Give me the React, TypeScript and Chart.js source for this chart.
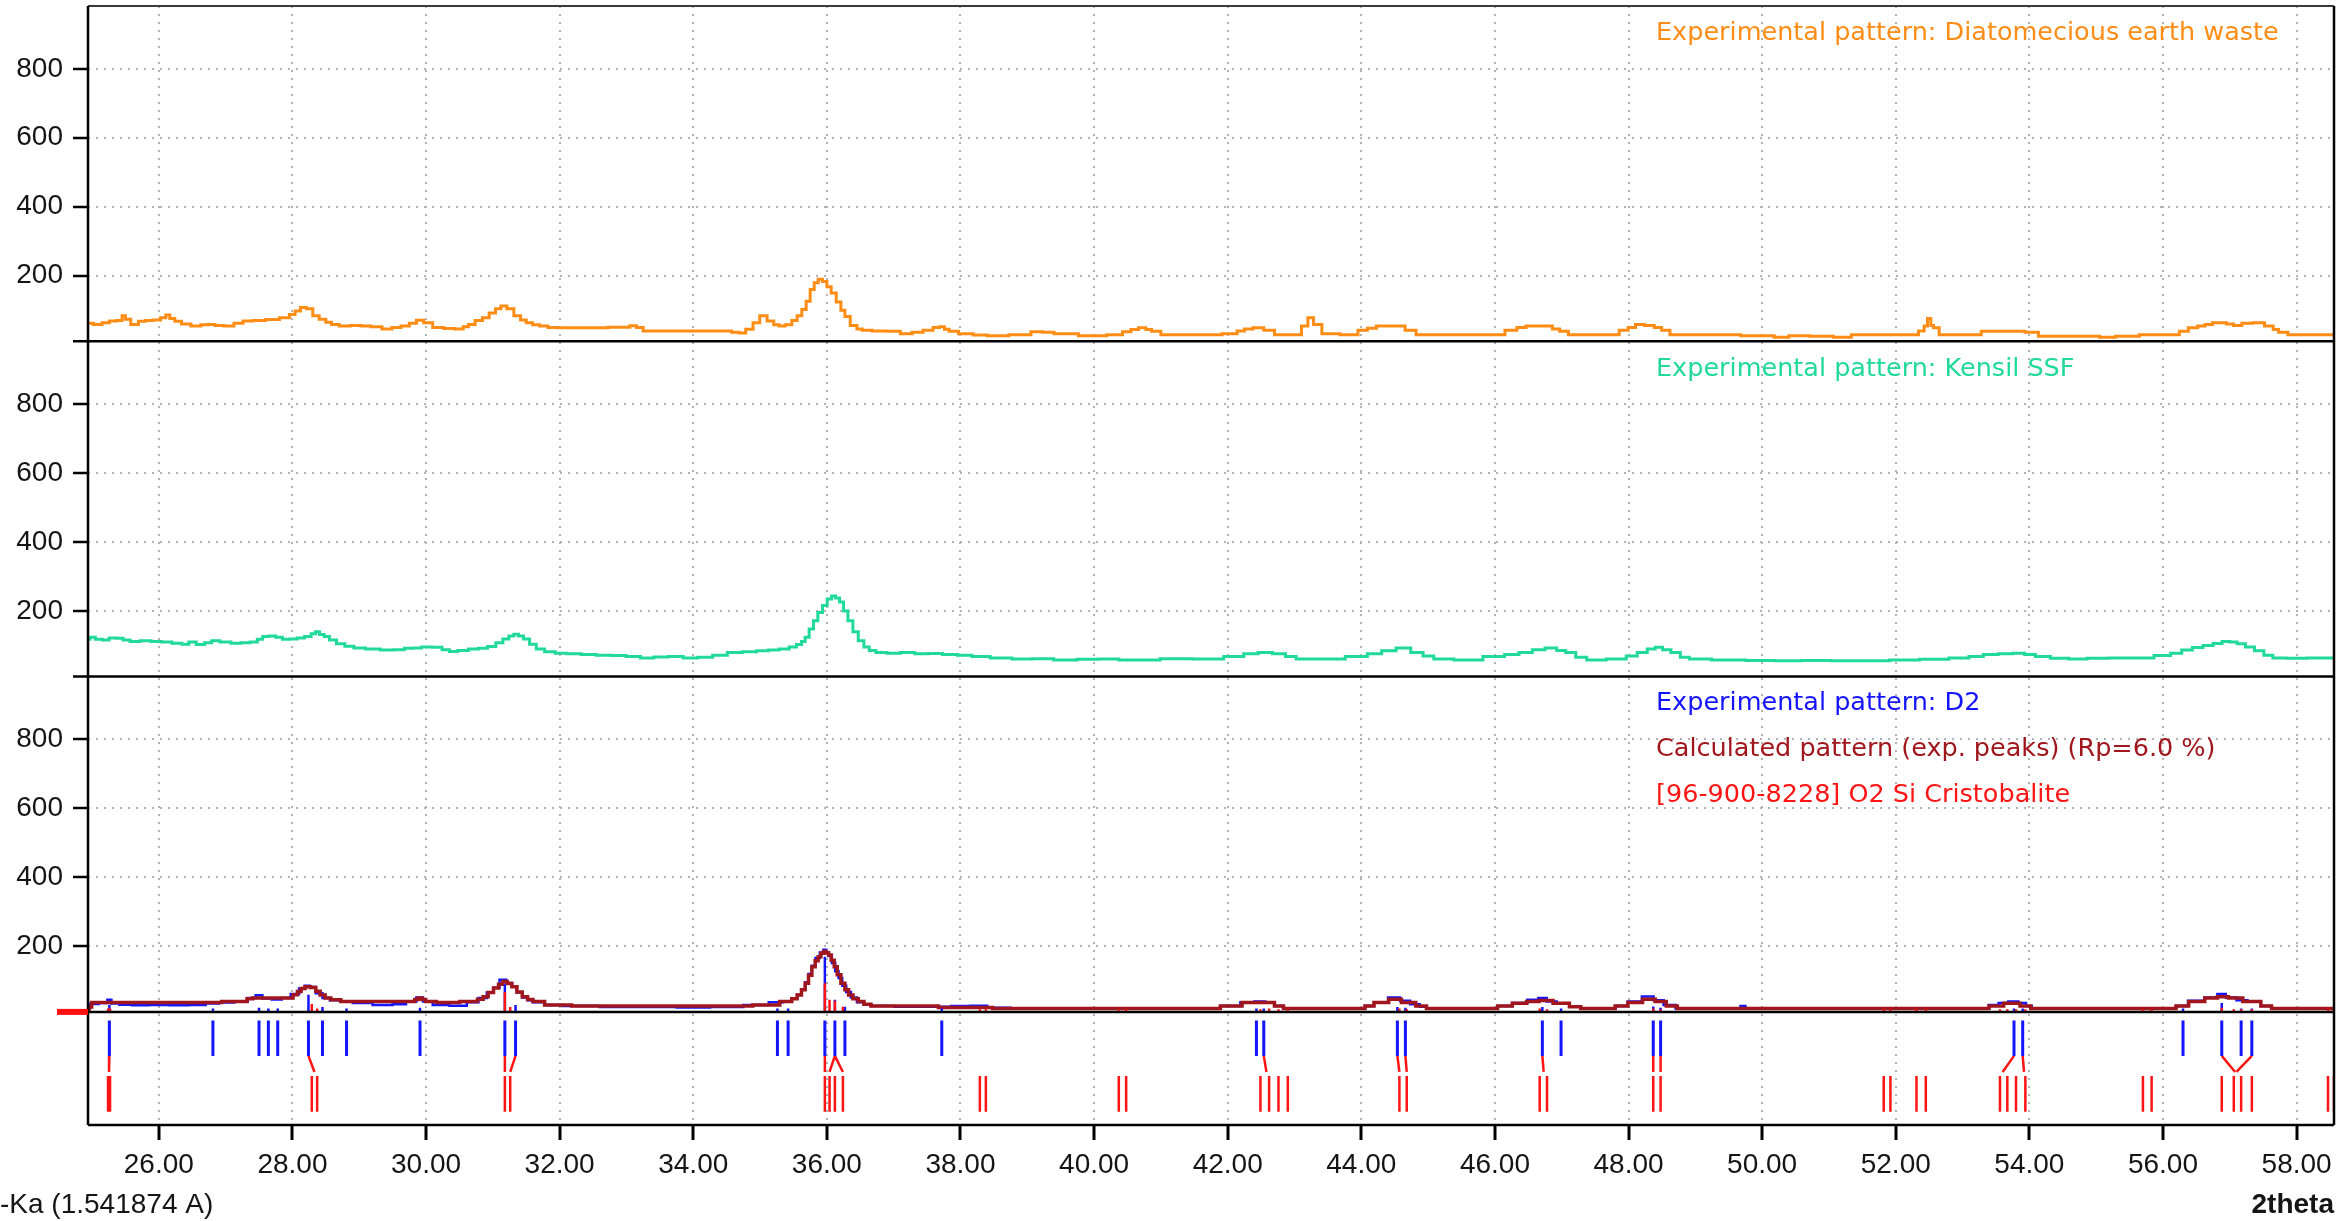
import React, { useEffect, useRef } from 'react';
import { Chart, registerables } from 'chart.js';

Chart.register(...registerables);

// ---------- axes ----------
const X_MIN = 24.94;
const X_MAX = 58.56;
const Y_MIN = 10;
const Y_MAX = 982;
const xTicks = [26, 28, 30, 32, 34, 36, 38, 40, 42, 44, 46, 48, 50, 52, 54, 56, 58];
const yTicks = [200, 400, 600, 800];

// ---------- texts ----------
const legendDiatom = 'Experimental pattern: Diatomecious earth waste';
const legendKensil = 'Experimental pattern: Kensil SSF';
const legendD2 = 'Experimental pattern: D2';
const legendCalc = 'Calculated pattern (exp. peaks) (Rp=6.0 %)';
const legendRef = '[96-900-8228] O2 Si Cristobalite';
const xAxisLeftTitle = '-Ka (1.541874 A)';
const xAxisRightTitle = '2theta';

// ---------- panel 1: Diatomecious earth waste ----------
const diatomPattern: [number, number][] = [
  [24.94, 62], [25.1, 59], [25.2, 64], [25.32, 69], [25.42, 70], [25.48, 84], [25.52, 74], [25.64, 59],
  [25.75, 68], [25.85, 70], [25.97, 72], [26.08, 78], [26.13, 86], [26.2, 76], [26.28, 68], [26.4, 60],
  [26.56, 54], [26.7, 58], [26.78, 59], [26.9, 56], [27.05, 54], [27.2, 62], [27.32, 69], [27.5, 70],
  [27.7, 73], [27.91, 78], [28.0, 88], [28.08, 98], [28.16, 108], [28.26, 104], [28.35, 84], [28.45, 74],
  [28.55, 65], [28.62, 59], [28.78, 54], [28.95, 56], [29.1, 54], [29.25, 52], [29.43, 46], [29.55, 50],
  [29.7, 54], [29.8, 62], [29.91, 71], [30.02, 64], [30.18, 50], [30.35, 47], [30.51, 46], [30.6, 52],
  [30.67, 59], [30.8, 70], [30.89, 78], [31.0, 92], [31.08, 104], [31.16, 112], [31.26, 104], [31.37, 84],
  [31.46, 72], [31.54, 64], [31.65, 58], [31.75, 54], [31.9, 50], [32.02, 49], [32.45, 49], [33.0, 51],
  [33.1, 55], [33.2, 50], [33.3, 40], [33.75, 40], [34.18, 40], [34.5, 40], [34.65, 36], [34.72, 34],
  [34.85, 45], [34.94, 64], [35.05, 84], [35.16, 69], [35.25, 58], [35.32, 54], [35.43, 58], [35.52, 70],
  [35.59, 84], [35.66, 102], [35.72, 126], [35.78, 160], [35.84, 180], [35.9, 190], [35.97, 183], [36.03, 168],
  [36.1, 150], [36.18, 124], [36.24, 100], [36.3, 82], [36.4, 56], [36.5, 46], [36.56, 42], [36.8, 40],
  [37.0, 39], [37.2, 32], [37.35, 36], [37.53, 42], [37.65, 50], [37.72, 52], [37.8, 45], [37.86, 39],
  [38.08, 32], [38.3, 28], [38.5, 26], [38.95, 29], [39.16, 38], [39.3, 36], [39.5, 32], [40.03, 26],
  [40.35, 29], [40.5, 38], [40.6, 44], [40.73, 49], [40.82, 44], [40.9, 39], [41.1, 29], [41.75, 29],
  [42.08, 32], [42.2, 40], [42.3, 46], [42.46, 49], [42.62, 42], [42.78, 29], [43.05, 29], [43.16, 54],
  [43.24, 78], [43.33, 59], [43.49, 32], [43.87, 29], [44.03, 42], [44.15, 48], [44.3, 54], [44.57, 54],
  [44.74, 42], [44.9, 29], [45.5, 29], [46.04, 29], [46.26, 42], [46.4, 50], [46.53, 54], [46.8, 54],
  [46.92, 46], [47.02, 39], [47.18, 29], [47.78, 29], [47.94, 42], [48.05, 50], [48.16, 59], [48.32, 56],
  [48.45, 50], [48.54, 42], [48.7, 29], [49.3, 29], [50.06, 26], [50.3, 22], [50.5, 26], [50.93, 25],
  [51.2, 22], [51.47, 29], [52.28, 29], [52.4, 40], [52.45, 54], [52.5, 76], [52.55, 56], [52.58, 49],
  [52.72, 29], [53.26, 29], [53.3, 39], [53.8, 39], [54.07, 36], [54.2, 25], [54.4, 25], [55.0, 25],
  [55.1, 22], [55.48, 25], [55.81, 29], [56.19, 29], [56.3, 39], [56.46, 49], [56.58, 54], [56.68, 59],
  [56.8, 64], [56.9, 64], [57.0, 60], [57.11, 56], [57.25, 62], [57.44, 64], [57.6, 54], [57.7, 44],
  [57.76, 36], [57.98, 29], [58.2, 29], [58.56, 29],
];

// ---------- panel 2: Kensil SSF ----------
const kensilPattern: [number, number][] = [
  [24.94, 118], [25.0, 124], [25.1, 118], [25.21, 116], [25.3, 122], [25.43, 121], [25.5, 116], [25.64, 112],
  [25.8, 114], [25.97, 112], [26.1, 110], [26.29, 107], [26.4, 104], [26.5, 110], [26.62, 103], [26.75, 108],
  [26.83, 114], [27.0, 110], [27.16, 107], [27.3, 108], [27.43, 110], [27.52, 118], [27.59, 126], [27.7, 128],
  [27.8, 124], [27.9, 118], [28.02, 119], [28.12, 122], [28.24, 126], [28.32, 134], [28.37, 140], [28.44, 132],
  [28.51, 126], [28.6, 116], [28.72, 105], [28.85, 98], [28.99, 93], [29.2, 90], [29.43, 87], [29.6, 88],
  [29.75, 92], [29.86, 93], [30.0, 96], [30.18, 95], [30.3, 88], [30.4, 83], [30.55, 86], [30.72, 90],
  [30.85, 92], [30.99, 97], [31.1, 108], [31.2, 119], [31.28, 128], [31.35, 133], [31.42, 128], [31.5, 119],
  [31.6, 104], [31.7, 90], [31.85, 82], [32.02, 78], [32.2, 76], [32.45, 74], [32.65, 72], [32.89, 71],
  [33.1, 68], [33.32, 64], [33.5, 67], [33.75, 68], [33.95, 64], [34.18, 66], [34.4, 72], [34.62, 80],
  [34.85, 82], [35.05, 85], [35.2, 87], [35.37, 90], [35.5, 96], [35.59, 103], [35.65, 112], [35.7, 124],
  [35.77, 148], [35.83, 172], [35.9, 196], [35.97, 216], [36.04, 235], [36.1, 244], [36.16, 238], [36.22, 226],
  [36.28, 200], [36.35, 172], [36.43, 140], [36.51, 114], [36.6, 96], [36.67, 86], [36.8, 80], [37.0, 78],
  [37.2, 80], [37.43, 76], [37.6, 77], [37.86, 74], [38.05, 72], [38.29, 68], [38.6, 64], [38.94, 61],
  [39.2, 62], [39.59, 58], [39.9, 60], [40.24, 61], [40.5, 58], [40.78, 58], [41.2, 62], [41.75, 61],
  [42.13, 68], [42.35, 76], [42.56, 80], [42.78, 76], [42.95, 68], [43.1, 61], [43.54, 61], [43.98, 68],
  [44.2, 76], [44.41, 85], [44.63, 93], [44.85, 80], [45.0, 70], [45.17, 61], [45.6, 58], [46.04, 68],
  [46.25, 74], [46.47, 80], [46.65, 88], [46.85, 93], [47.0, 86], [47.12, 80], [47.3, 66], [47.45, 58],
  [47.88, 61], [48.05, 70], [48.21, 80], [48.35, 90], [48.45, 95], [48.57, 88], [48.7, 80], [48.85, 66],
  [48.97, 61], [49.51, 58], [50.0, 57], [50.38, 56], [50.8, 57], [51.25, 56], [51.7, 56], [52.11, 58],
  [52.6, 60], [52.99, 64], [53.2, 68], [53.42, 74], [53.65, 76], [53.86, 78], [54.0, 74], [54.18, 68],
  [54.45, 63], [54.73, 61], [55.0, 63], [55.38, 64], [55.7, 64], [56.03, 71], [56.2, 78], [56.36, 87],
  [56.52, 94], [56.68, 100], [56.82, 106], [56.95, 112], [57.05, 110], [57.17, 105], [57.3, 96], [57.44, 85],
  [57.58, 72], [57.71, 64], [58.0, 63], [58.3, 64], [58.56, 64],
];

// ---------- panel 3: D2 experimental + calculated ----------
const d2Pattern: [number, number][] = [
  [24.94, 20], [25.0, 33], [25.2, 36], [25.26, 45], [25.32, 34], [25.5, 31], [25.7, 29], [26.0, 30],
  [26.3, 29], [26.6, 30], [26.8, 34], [27.0, 37], [27.26, 40], [27.4, 50], [27.5, 58], [27.6, 49],
  [27.78, 46], [27.9, 50], [28.05, 62], [28.15, 78], [28.22, 86], [28.3, 82], [28.4, 64], [28.5, 50],
  [28.62, 44], [28.81, 40], [29.0, 36], [29.4, 30], [29.6, 32], [29.8, 40], [29.91, 52], [30.0, 40],
  [30.2, 30], [30.5, 28], [30.72, 38], [30.85, 50], [30.97, 66], [31.05, 80], [31.15, 103], [31.25, 94],
  [31.32, 84], [31.4, 66], [31.48, 52], [31.56, 44], [31.64, 38], [31.9, 30], [32.2, 27], [33.0, 24],
  [33.5, 24], [34.0, 23], [34.5, 24], [35.0, 30], [35.26, 38], [35.43, 40], [35.52, 48], [35.59, 60],
  [35.65, 74], [35.7, 96], [35.75, 120], [35.8, 144], [35.86, 166], [35.93, 182], [35.97, 190], [36.01, 183],
  [36.05, 172], [36.1, 152], [36.15, 128], [36.2, 108], [36.26, 86], [36.32, 68], [36.4, 52], [36.5, 38],
  [36.6, 32], [36.72, 27], [37.3, 25], [37.72, 25], [38.0, 27], [38.3, 28], [38.5, 22], [39.0, 20],
  [41.7, 20], [42.08, 27], [42.3, 38], [42.5, 40], [42.62, 37], [42.78, 27], [42.89, 20], [44.03, 20],
  [44.08, 27], [44.3, 38], [44.5, 52], [44.66, 42], [44.8, 32], [44.95, 25], [45.0, 20], [45.93, 20],
  [46.15, 27], [46.37, 36], [46.6, 45], [46.7, 50], [46.85, 40], [47.0, 35], [47.23, 25], [47.34, 20],
  [47.72, 20], [47.88, 27], [48.1, 40], [48.3, 55], [48.45, 44], [48.6, 30], [48.81, 20], [49.65, 20],
  [49.7, 27], [49.8, 20], [53.31, 20], [53.48, 30], [53.6, 36], [53.77, 40], [53.9, 36], [54.0, 27],
  [54.07, 20], [56.14, 20], [56.25, 27], [56.5, 42], [56.75, 52], [56.88, 62], [57.0, 52], [57.2, 44],
  [57.33, 40], [57.6, 27], [57.65, 20], [58.56, 20],
];

const calcPattern: [number, number][] = [
  [24.94, 10], [24.97, 24], [25.02, 37], [25.54, 37], [26.0, 37], [26.62, 37], [27.26, 40], [27.38, 48],
  [27.43, 50], [27.97, 50], [28.05, 60], [28.1, 69], [28.16, 78], [28.22, 83], [28.32, 81], [28.38, 70],
  [28.45, 59], [28.53, 50], [28.62, 45], [28.83, 40], [29.8, 40], [29.86, 46], [29.91, 50], [29.97, 46],
  [30.02, 40], [30.29, 37], [30.72, 40], [30.82, 47], [30.89, 54], [30.97, 66], [31.05, 79], [31.12, 90],
  [31.18, 98], [31.25, 92], [31.32, 83], [31.4, 68], [31.48, 54], [31.56, 46], [31.64, 40], [31.91, 30],
  [32.45, 27], [33.54, 27], [34.62, 27], [35.16, 30], [35.43, 40], [35.52, 48], [35.59, 59], [35.65, 74],
  [35.7, 93], [35.75, 116], [35.8, 141], [35.85, 158], [35.89, 170], [35.93, 180], [35.97, 185], [36.01, 181],
  [36.04, 175], [36.09, 160], [36.13, 141], [36.18, 118], [36.24, 93], [36.3, 74], [36.35, 59], [36.43, 48],
  [36.51, 40], [36.6, 32], [36.72, 27], [37.32, 27], [38.02, 23], [38.94, 20], [41.7, 20], [42.08, 27],
  [42.35, 37], [42.62, 37], [42.78, 27], [42.89, 20], [44.03, 20], [44.08, 27], [44.3, 37], [44.52, 47],
  [44.68, 37], [44.95, 27], [45.0, 20], [45.93, 20], [46.15, 27], [46.37, 35], [46.58, 40], [46.74, 43],
  [47.0, 35], [47.23, 25], [47.34, 20], [47.72, 20], [47.88, 27], [48.1, 37], [48.32, 47], [48.48, 40],
  [48.65, 27], [48.81, 20], [53.31, 20], [53.48, 27], [53.75, 35], [53.97, 27], [54.07, 20], [56.14, 20],
  [56.25, 27], [56.52, 40], [56.73, 50], [56.9, 54], [57.06, 50], [57.33, 40], [57.6, 27], [57.65, 20],
  [58.56, 20],
];

// peak sticks at panel 3 baseline: [2theta, intensity]
const expSticks: [number, number][] = [
  [25.26, 30], [26.81, 20], [27.5, 22], [27.64, 20], [27.78, 20], [28.24, 60], [28.45, 24], [28.81, 20],
  [29.91, 22], [31.18, 90], [31.34, 30], [35.26, 20], [35.42, 20], [35.97, 170], [36.12, 45], [36.27, 25],
  [37.72, 20], [42.43, 20], [42.54, 20], [44.54, 24], [44.66, 22], [46.71, 24], [46.99, 20], [48.37, 26],
  [48.48, 22], [53.77, 20], [53.9, 20], [56.3, 20], [56.88, 36], [57.17, 20], [57.33, 20],
];
const refSticks: [number, number][] = [
  [25.24, 20], [25.27, 20], [28.29, 33], [28.37, 20], [31.18, 68], [31.26, 24], [35.97, 93], [36.04, 45],
  [36.12, 42], [36.24, 25], [38.29, 18], [38.38, 18], [40.37, 18], [40.48, 18], [42.49, 18], [42.62, 20],
  [42.76, 18], [42.9, 18], [44.57, 20], [44.68, 18], [46.67, 20], [46.78, 18], [48.37, 20], [48.48, 18],
  [51.82, 18], [51.92, 18], [52.31, 18], [52.45, 18], [53.56, 18], [53.67, 18], [53.8, 18], [53.94, 18],
  [55.7, 18], [55.83, 18], [56.88, 22], [57.06, 18], [57.17, 18], [57.33, 18], [58.47, 18], [58.56, 18],
];

// ---------- peak marker strip ----------
const expPeaks = [
  25.26, 26.81, 27.5, 27.64, 27.78, 28.24, 28.45, 28.81, 29.91, 31.18, 31.34, 35.26, 35.42, 35.97, 36.12,
  36.27, 37.72, 42.43, 42.54, 44.54, 44.66, 46.71, 46.99, 48.37, 48.48, 53.77, 53.9, 56.3, 56.88, 57.17, 57.33,
];
const refPeaks = [
  25.24, 25.27, 28.29, 28.37, 31.18, 31.26, 35.97, 36.04, 36.12, 36.24, 38.29, 38.38, 40.37, 40.48, 42.49,
  42.62, 42.76, 42.9, 44.57, 44.68, 46.67, 46.78, 48.37, 48.48, 51.82, 51.92, 52.31, 52.45, 53.56, 53.67,
  53.8, 53.94, 55.7, 55.83, 56.88, 57.06, 57.17, 57.33, 58.47, 58.56,
];
// matched peaks: [experimental 2theta, reference 2theta]
const peakLinks: [number, number][] = [
  [25.26, 25.255], [28.24, 28.33], [31.18, 31.18], [31.34, 31.26], [35.97, 35.97], [36.12, 36.04],
  [36.12, 36.24], [42.54, 42.58], [44.54, 44.57], [44.66, 44.68], [46.71, 46.73], [48.37, 48.37],
  [48.48, 48.48], [53.77, 53.6], [53.9, 53.92], [56.88, 57.08], [57.33, 57.1],
];

// ---------- styles ----------
const ORANGE = '#FF8C14';
const GREEN = '#20D99B';
const BLUE = '#1414FF';
const DARKRED = '#A0161C';
const RED = '#FF1414';
const GRID = '#b3b3b3';
const FONT_TICK = 'Liberation Sans';
const FONT_LEGEND = 'DejaVu Sans';

const toXY = (arr: [number, number][]) => arr.map(([x, y]) => ({ x, y }));
const vSegs = (xs: number[], top: number, bottom: number) =>
  xs.flatMap((x) => [{ x, y: top }, { x, y: bottom }, { x, y: null as any }]);
const sticks = (arr: [number, number][]) =>
  arr.flatMap(([x, h]) => [{ x, y: Y_MIN }, { x, y: h }, { x, y: null as any }]);
const links = (arr: [number, number][], top: number, bottom: number) =>
  arr.flatMap(([a, b]) => [{ x: a, y: top }, { x: b, y: bottom }, { x: a, y: null as any }]);

// strip levels (fraction of marker strip height)
const BLUE_TOP = 0.923;
const BLUE_BOT = 0.611;
const LINK_BOT = 0.469;
const RED_TOP = 0.434;
const RED_BOT = 0.118;

const lineDs = (
  label: string,
  data: any[],
  color: string,
  width: number,
  yAxisID: string,
  order: number,
  stepped: false | 'middle' = false,
) => ({
  label,
  data,
  borderColor: color,
  backgroundColor: color,
  borderWidth: width,
  pointRadius: 0,
  fill: false,
  tension: 0,
  stepped,
  spanGaps: false,
  yAxisID,
  xAxisID: 'x',
  order,
  borderCapStyle: 'butt' as const,
});

const panelScale = (weight: number) => ({
  type: 'linear' as const,
  position: 'left' as const,
  stack: 'panels',
  stackWeight: 335,
  weight,
  min: Y_MIN,
  max: Y_MAX,
  afterBuildTicks: (s: any) => {
    s.ticks = yTicks.map((v) => ({ value: v }));
  },
  afterFit: (s: any) => {
    s.width = 88;
    s.paddingTop = 0;
    s.paddingBottom = 0;
  },
  ticks: {
    font: { family: FONT_TICK, size: 28 },
    color: '#151515',
    padding: 10,
    callback: (v: any) => String(v),
  },
  grid: { color: GRID, lineWidth: 2, tickColor: '#000', tickWidth: 2.5, tickLength: 15, tickBorderDash: [] },
  border: { display: false, dash: [2, 6] },
});

const decorPlugin = {
  id: 'decor',
  beforeDraw(chart: any) {
    const { ctx, width, height } = chart;
    ctx.save();
    ctx.fillStyle = '#ffffff';
    ctx.fillRect(0, 0, width, height);
    ctx.restore();
  },
  afterDraw(chart: any) {
    const { ctx, chartArea: ca, scales } = chart;
    const seg = (x1: number, y1: number, x2: number, y2: number) => {
      ctx.beginPath();
      ctx.moveTo(x1, y1);
      ctx.lineTo(x2, y2);
      ctx.stroke();
    };
    ctx.save();
    ctx.lineCap = 'butt';
    ctx.strokeStyle = '#3a3a3a';
    ctx.lineWidth = 2;
    seg(ca.left, ca.top, ca.right, ca.top);
    ctx.strokeStyle = '#000';
    ctx.lineWidth = 2.5;
    seg(ca.left, ca.top, ca.left, ca.bottom);
    seg(ca.right, ca.top, ca.right, ca.bottom);
    seg(ca.left, ca.bottom, ca.right, ca.bottom);
    for (const id of ['y1', 'y2', 'y3']) {
      const y = scales[id].bottom;
      seg(ca.left - 15, y, ca.right, y);
    }
    // zero marker at left of panel 3
    ctx.fillStyle = '#FF1010';
    ctx.fillRect(ca.left - 31, scales.y3.bottom - 3, 31, 6);

    // legends
    ctx.textAlign = 'left';
    ctx.textBaseline = 'middle';
    ctx.font = `25.5px "${FONT_LEGEND}"`;
    const lx = ca.left + 1568;
    ctx.fillStyle = ORANGE;
    ctx.fillText(legendDiatom, lx, scales.y1.top + 27);
    ctx.fillStyle = GREEN;
    ctx.fillText(legendKensil, lx, scales.y2.top + 28);
    ctx.fillStyle = BLUE;
    ctx.fillText(legendD2, lx, scales.y3.top + 27);
    ctx.fillStyle = DARKRED;
    ctx.fillText(legendCalc, lx, scales.y3.top + 73);
    ctx.fillStyle = RED;
    ctx.fillText(legendRef, lx, scales.y3.top + 119);

    // axis titles
    ctx.fillStyle = '#151515';
    ctx.font = `28px "${FONT_TICK}"`;
    ctx.fillText(xAxisLeftTitle, 0, ca.bottom + 80);
    ctx.textAlign = 'right';
    ctx.font = `bold 28px "${FONT_TICK}"`;
    ctx.fillText(xAxisRightTitle, ca.right, ca.bottom + 80);
    ctx.restore();
  },
};

export default function App() {
  const ref = useRef<HTMLCanvasElement>(null);

  useEffect(() => {
    document.body.style.margin = '0';
    const canvas = ref.current;
    if (!canvas) return;

    const chart = new Chart(canvas, {
      type: 'line',
      data: {
        datasets: [
          // marker strip
          lineDs('exp peaks', vSegs(expPeaks, BLUE_TOP, BLUE_BOT), BLUE, 3, 'y4', 0),
          lineDs('links', links(peakLinks, BLUE_BOT, LINK_BOT), RED, 2.5, 'y4', 0),
          lineDs('ref peaks', vSegs(refPeaks, RED_TOP, RED_BOT), RED, 2.5, 'y4', 0),
          // panel 3
          lineDs('ref sticks', sticks(refSticks), RED, 2.5, 'y3', 1),
          lineDs('exp sticks', sticks(expSticks), BLUE, 2.5, 'y3', 2),
          lineDs(legendCalc, toXY(calcPattern), DARKRED, 3.5, 'y3', 3, 'middle'),
          lineDs(legendD2, toXY(d2Pattern), BLUE, 2.5, 'y3', 4, 'middle'),
          // panel 2
          lineDs(legendKensil, toXY(kensilPattern), GREEN, 3, 'y2', 5, 'middle'),
          // panel 1
          lineDs(legendDiatom, toXY(diatomPattern), ORANGE, 3, 'y1', 6, 'middle'),
        ] as any,
      },
      options: {
        animation: false,
        responsive: false,
        maintainAspectRatio: false,
        devicePixelRatio: 1,
        events: [],
        layout: { padding: { top: 6, right: 17, left: 0, bottom: 0 } },
        plugins: {
          legend: { display: false },
          tooltip: { enabled: false },
          title: { display: false },
        },
        scales: {
          x: {
            type: 'linear',
            position: 'bottom',
            min: X_MIN,
            max: X_MAX,
            afterBuildTicks: (s: any) => {
              s.ticks = xTicks.map((v) => ({ value: v }));
            },
            afterFit: (s: any) => {
              s.height = 96;
              s.paddingLeft = 0;
              s.paddingRight = 0;
            },
            ticks: {
              font: { family: FONT_TICK, size: 28 },
              color: '#151515',
              padding: 8,
              maxRotation: 0,
              autoSkip: false,
              callback: (v: any) => Number(v).toFixed(2),
            },
            grid: { color: GRID, lineWidth: 2, tickColor: '#000', tickWidth: 3, tickLength: 15, tickBorderDash: [] },
            border: { display: false, dash: [2, 6] },
          },
          y1: panelScale(4),
          y2: panelScale(3),
          y3: panelScale(2),
          y4: {
            type: 'linear',
            position: 'left',
            stack: 'panels',
            stackWeight: 113,
            weight: 1,
            min: 0,
            max: 1,
            afterBuildTicks: (s: any) => {
              s.ticks = [];
            },
            afterFit: (s: any) => {
              s.width = 88;
              s.paddingTop = 0;
              s.paddingBottom = 0;
            },
            ticks: { display: false },
            grid: { display: false, drawTicks: false },
            border: { display: false },
          },
        } as any,
      },
      plugins: [decorPlugin],
    });

    return () => chart.destroy();
  }, []);

  return (
    <div style={{ position: 'absolute', left: 0, top: 0, width: 2351, height: 1221, background: '#fff' }}>
      <canvas ref={ref} width={2351} height={1221} style={{ display: 'block', width: 2351, height: 1221 }} />
    </div>
  );
}
